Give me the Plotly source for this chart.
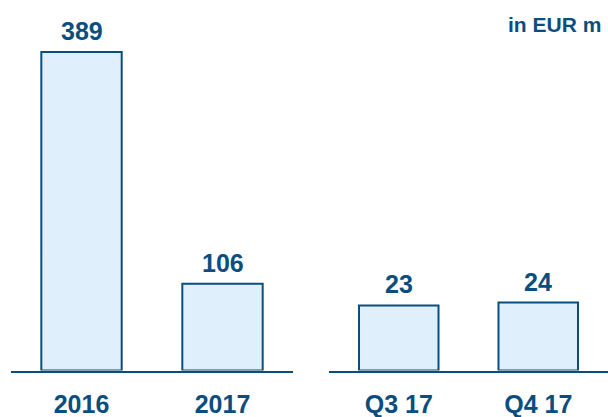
import plotly.graph_objects as go
from plotly.subplots import make_subplots

# Data
years = ["2016", "2017"]
year_values = [389, 106]
quarters = ["Q3 17", "Q4 17"]
quarter_values = [23, 24]
unit_label = "in EUR m"

DARK = "#0A4E7F"
FILL = "#DFF0FC"
FONT = "Liberation Sans, Arial, sans-serif"

W, H = 608, 417

fig = make_subplots(rows=1, cols=2)

for col, cats, vals in [(1, years, year_values), (2, quarters, quarter_values)]:
    fig.add_trace(
        go.Bar(
            x=cats, y=vals, width=0.57,
            marker=dict(color=FILL, line=dict(color=DARK, width=2)),
            hoverinfo="skip", showlegend=False,
        ),
        row=1, col=col,
    )
    suffix = "" if col == 1 else str(col)
    for i, v in enumerate(vals):
        fig.add_annotation(
            x=i, y=v, text=str(v), showarrow=False,
            xref="x" + suffix, yref="y" + suffix,
            yanchor="bottom", yshift=5,
            font=dict(family=FONT, size=25, color=DARK, weight="bold"),
        )

base = (H - 370.5) / H
fig.update_layout(
    width=W, height=H,
    margin=dict(l=0, r=0, t=0, b=0),
    paper_bgcolor="white", plot_bgcolor="white",
    xaxis=dict(domain=[11 / W, 293 / W], range=[-0.5, 1.5], type="category"),
    xaxis2=dict(domain=[329 / W, 1.0], range=[-0.5, 1.5], type="category"),
    yaxis=dict(domain=[base, 1.0], range=[0, 452.5], visible=False),
    yaxis2=dict(domain=[base, 1.0], range=[0, 131], visible=False),
)
fig.update_xaxes(
    showline=True, linecolor=DARK, linewidth=2, showgrid=False, zeroline=False,
    ticks="", ticklabelstandoff=10, automargin=False,
    tickfont=dict(family=FONT, size=25, color=DARK, weight="bold"),
)
fig.update_yaxes(automargin=False)

fig.add_annotation(
    xref="paper", yref="paper", x=603 / W, y=1 - 25 / H,
    xanchor="right", yanchor="middle", showarrow=False, text=unit_label,
    font=dict(family=FONT, size=21, color=DARK, weight="bold"),
)

fig.write_html("out.html")
